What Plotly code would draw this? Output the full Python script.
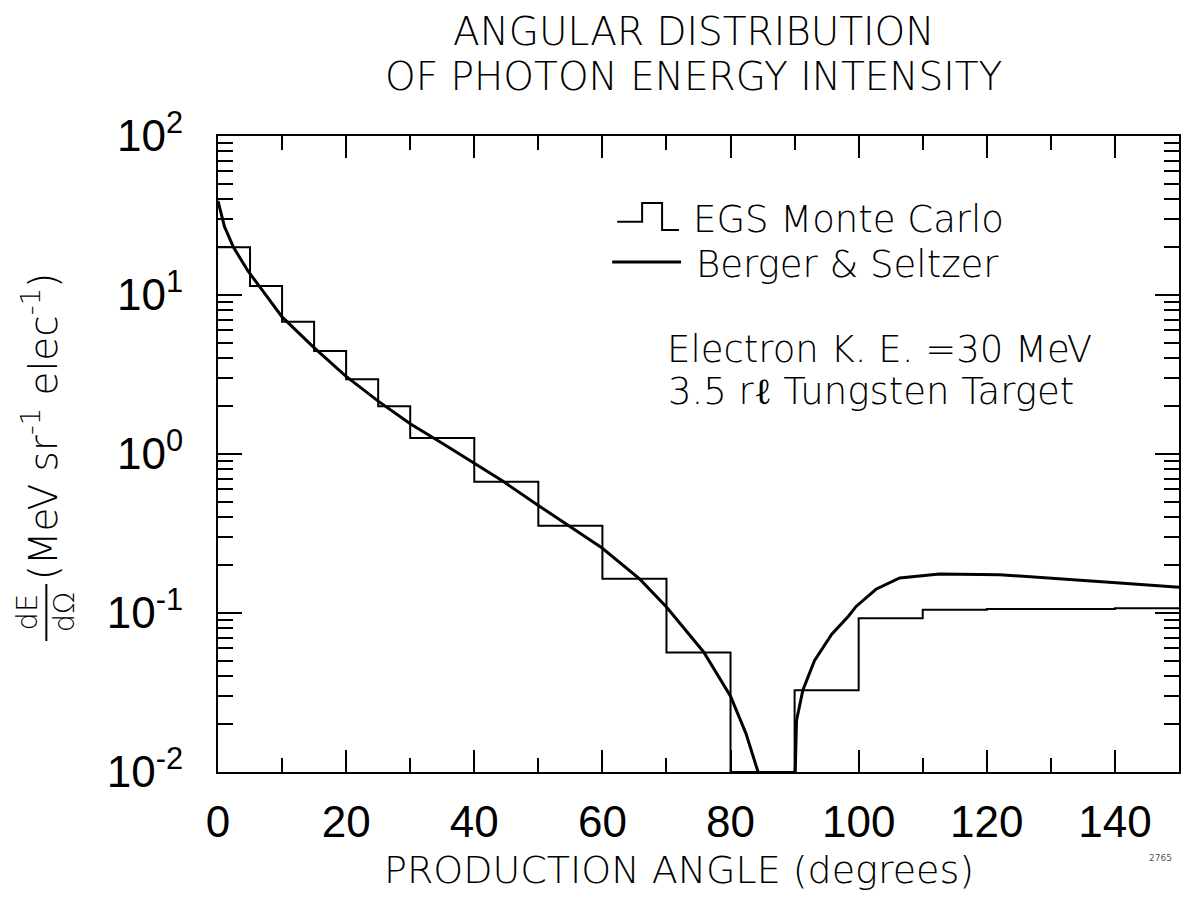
import plotly.graph_objects as go

# ---------------- data ----------------
# EGS Monte Carlo histogram: bin edges (degrees) and bin values (MeV sr^-1 elec^-1)
egs_edges = [0, 5, 10, 15, 20, 25, 30, 40, 50, 60, 70, 80, 90, 100, 110, 120, 130, 140, 150]
egs_values = [20.0, 11.4, 6.8, 4.44, 2.95, 2.0, 1.26, 0.67, 0.354, 0.164, 0.0565,
              0.01, 0.0327, 0.0927, 0.105, 0.106, 0.106, 0.107]

# Berger & Seltzer curve, forward part (0 - ~84 deg)
bs_fwd_angle = [0, 1.0, 2.4, 4.7, 6.5, 10, 14.9, 19.9, 25, 30, 35, 40, 44.5, 50, 54.8,
                59.9, 65.8, 70, 75.8, 80, 82.4, 84.3]
bs_fwd_value = [39.0, 27.0, 20.0, 14.1, 11.3, 7.28, 4.70, 3.10, 2.15, 1.55, 1.17, 0.88,
                0.673, 0.475, 0.353, 0.257, 0.164, 0.109, 0.0569, 0.030, 0.0175, 0.0100]
# Berger & Seltzer curve, backward part (90 - 150 deg)
bs_back_angle = [90.1, 90.3, 91.3, 93.1, 95.8, 98.4, 99.6, 102.7, 106.4, 112.6, 122,
                 130.9, 141.3, 150]
bs_back_value = [0.0100, 0.0211, 0.0328, 0.0501, 0.0735, 0.0955, 0.110, 0.141, 0.166,
                 0.176, 0.174, 0.165, 0.154, 0.145]

y_tick_vals = [0.01, 0.1, 1, 10, 100]
y_tick_text = ["10<sup>-2</sup>", "10<sup>-1</sup>", "10<sup>0</sup>",
               "10<sup>1</sup>", "10<sup>2</sup>"]

title_lines = ["ANGULAR DISTRIBUTION", "OF PHOTON ENERGY INTENSITY"]
x_title = "PRODUCTION ANGLE (degrees)"
legend_labels = ["EGS Monte Carlo", "Berger & Seltzer"]
info_lines = ["Electron K. E. =30 MeV", "3.5 r\u2113 Tungsten Target"]

# ---------------- layout geometry ----------------
W, H = 1185, 897
ML, MR, MT, MB = 218, 4, 136, 125
PW, PH = W - ML - MR, H - MT - MB
FONT = "DejaVu Sans"
TICKFONT = "Liberation Sans Narrow, Liberation Sans"
WEIGHT = 300


def px(xp):
    return (xp - ML) / PW


def py(yp):
    return (H - MB - yp) / PH


def tfont(size, family=FONT, weight=WEIGHT):
    return dict(family=family, size=size, color="black", weight=weight)


fig = go.Figure()

# histogram (step)
fig.add_trace(go.Scatter(
    x=egs_edges, y=egs_values + [egs_values[-1]],
    mode="lines", line=dict(color="black", width=2, shape="hv"),
    showlegend=False, hoverinfo="skip"))

# Berger & Seltzer curve
fig.add_trace(go.Scatter(
    x=bs_fwd_angle, y=bs_fwd_value, mode="lines",
    line=dict(color="black", width=3), showlegend=False, hoverinfo="skip"))
fig.add_trace(go.Scatter(
    x=bs_back_angle, y=bs_back_value, mode="lines",
    line=dict(color="black", width=3), showlegend=False, hoverinfo="skip"))

minor_y = [m * 10 ** e for e in range(-2, 2) for m in range(2, 10)]

fig.update_xaxes(
    range=[0, 150], tick0=0, dtick=20, ticks="inside", ticklen=22, tickwidth=2,
    tickcolor="black", showline=True, linecolor="black", linewidth=2,
    mirror="allticks", showgrid=False, zeroline=False,
    tickfont=tfont(44, TICKFONT, "normal"),
    ticklabelstandoff=10,
    minor=dict(dtick=10, tick0=0, ticks="inside", ticklen=14, tickwidth=2,
               tickcolor="black", showgrid=False),
)
fig.update_yaxes(
    type="log", range=[-2, 2], tickmode="array", tickvals=y_tick_vals,
    ticktext=y_tick_text, ticks="inside", ticklen=24, tickwidth=2,
    tickcolor="black", showline=True, linecolor="black", linewidth=2,
    mirror="allticks", showgrid=False, zeroline=False,
    tickfont=tfont(44, TICKFONT, "normal"),
    ticklabelstandoff=24,
    minor=dict(tickmode="array", tickvals=minor_y, ticks="inside", ticklen=15,
               tickwidth=2, tickcolor="black", showgrid=False),
)

ann = []
# title
ann.append(dict(text=title_lines[0], x=px(694), y=py(31), xref="paper", yref="paper",
                xanchor="center", yanchor="middle", showarrow=False, font=tfont(39)))
ann.append(dict(text=title_lines[1], x=px(694), y=py(76), xref="paper", yref="paper",
                xanchor="center", yanchor="middle", showarrow=False, font=tfont(39)))
# x axis title
ann.append(dict(text=x_title, x=px(680), y=py(870), xref="paper", yref="paper",
                xanchor="center", yanchor="middle", showarrow=False, font=tfont(38)))
# y axis title : (MeV sr^-1 elec^-1) and the dE/dOmega fraction
ann.append(dict(text="(MeV sr<sup>-1</sup> elec<sup>-1</sup>)", x=px(40), y=py(426),
                xref="paper", yref="paper", xanchor="center", yanchor="middle",
                textangle=-90, showarrow=False, font=tfont(39)))
ann.append(dict(text="dE", x=px(27), y=py(612), xref="paper", yref="paper",
                xanchor="center", yanchor="middle", textangle=-90, showarrow=False,
                font=tfont(29)))
ann.append(dict(text="d\u03a9", x=px(64), y=py(612), xref="paper", yref="paper",
                xanchor="center", yanchor="middle", textangle=-90, showarrow=False,
                font=tfont(29)))
# legend texts
ann.append(dict(text=legend_labels[0], x=px(692), y=py(219), xref="paper", yref="paper",
                xanchor="left", yanchor="middle", showarrow=False, font=tfont(37)))
ann.append(dict(text=legend_labels[1], x=px(695), y=py(264), xref="paper", yref="paper",
                xanchor="left", yanchor="middle", showarrow=False, font=tfont(37)))
ann.append(dict(text=info_lines[0], x=px(666), y=py(349), xref="paper", yref="paper",
                xanchor="left", yanchor="middle", showarrow=False, font=tfont(37)))
ann.append(dict(text=info_lines[1], x=px(667), y=py(391), xref="paper", yref="paper",
                xanchor="left", yanchor="middle", showarrow=False, font=tfont(37)))
# figure number
ann.append(dict(text="2765", x=px(1162), y=py(858), xref="paper", yref="paper",
                xanchor="center", yanchor="middle", showarrow=False,
                font=dict(family=FONT, size=9, color="#555555")))

shapes = []
# fraction bar
shapes.append(dict(type="line", xref="paper", yref="paper",
                   x0=px(46), x1=px(46), y0=py(584), y1=py(641),
                   line=dict(color="black", width=2)))
# legend symbols
step_pts = [(618, 221.7), (643, 221.7), (643, 203), (663, 203), (663, 230), (680, 230)]
path = "M " + " L ".join(f"{px(a):.5f},{py(b):.5f}" for a, b in step_pts)
shapes.append(dict(type="path", xref="paper", yref="paper", path=path,
                   line=dict(color="black", width=2)))
shapes.append(dict(type="line", xref="paper", yref="paper",
                   x0=px(613), x1=px(682), y0=py(262), y1=py(262),
                   line=dict(color="black", width=3)))

fig.update_layout(
    width=W, height=H, margin=dict(l=ML, r=MR, t=MT, b=MB, pad=0),
    paper_bgcolor="white", plot_bgcolor="white",
    annotations=ann, shapes=shapes, showlegend=False,
    font=dict(family=FONT, color="black"),
)

fig.write_html("out.html",
               config={"displayModeBar": False},
               post_script="document.body.style.margin='0px';"
                           "document.body.style.padding='0px';")
